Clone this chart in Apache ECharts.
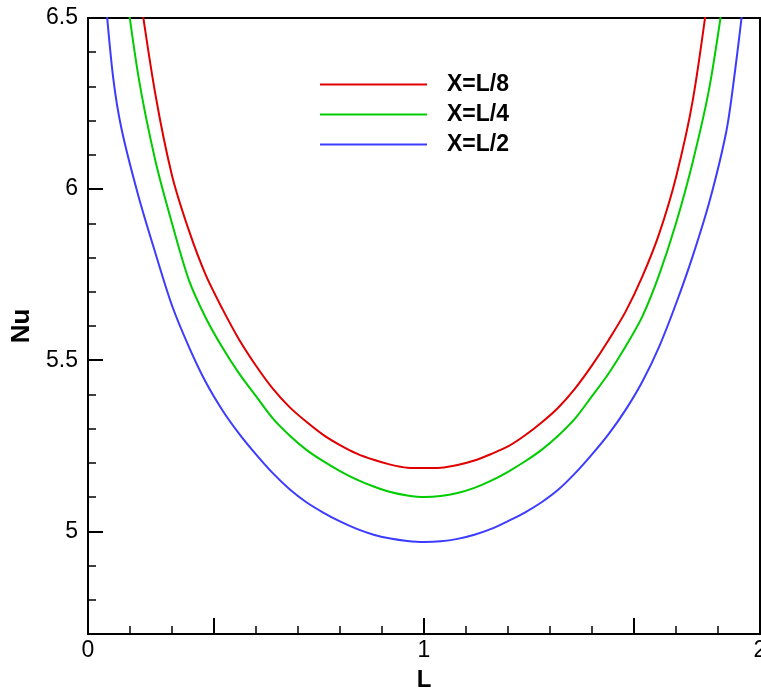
<!DOCTYPE html>
<html>
<head>
<meta charset="utf-8">
<script src="https://cdn.jsdelivr.net/npm/echarts@6/dist/echarts.min.js"></script>
<style>html,body{margin:0;padding:0;background:#fff;}#c{width:761px;height:690px;}</style>
</head>
<body>
<div id="c"></div>
<script>
// ---- data ----
const L = [0.05,0.075,0.10,0.15,0.20,0.25,0.30,0.35,0.40,0.45,0.50,0.55,0.60,0.65,0.70,0.75,0.80,0.85,0.90,0.95,1.00,
           1.05,1.10,1.15,1.20,1.25,1.30,1.35,1.40,1.45,1.50,1.55,1.60,1.65,1.70,1.75,1.80,1.85,1.90,1.925,1.95];
const nuL8 = [null,null,null,6.60,6.28,6.04,5.88,5.75,5.65,5.56,5.484,5.417,5.363,5.320,5.282,5.252,5.227,5.209,5.195,5.186,5.185,
              5.186,5.194,5.207,5.226,5.248,5.280,5.318,5.362,5.418,5.485,5.56,5.642,5.745,5.87,6.035,6.26,6.60,null,null,null];
const nuL4 = [null,null,6.68,6.33,6.085,5.90,5.735,5.625,5.537,5.461,5.395,5.330,5.280,5.238,5.205,5.176,5.151,5.131,5.115,5.105,5.100,
              5.103,5.112,5.127,5.148,5.174,5.204,5.238,5.280,5.330,5.395,5.462,5.54,5.628,5.75,5.90,6.08,6.30,6.62,null,null];
const nuL2 = [6.58,6.325,6.175,5.98,5.815,5.66,5.54,5.437,5.354,5.285,5.225,5.170,5.123,5.085,5.055,5.029,5.007,4.990,4.979,4.972,4.969,
              4.971,4.978,4.990,5.007,5.030,5.055,5.085,5.122,5.170,5.225,5.285,5.355,5.438,5.54,5.665,5.805,5.965,6.17,6.34,6.54];
const seriesNames = ['X=L/8','X=L/4','X=L/2'];
const xLabelValues = [0,1,2];
const xMajorTicks = [0.375,1,1.625];
const yMajorValues = [5,5.5,6,6.5];

const pair = (ys) => L.map((x,i) => [x, ys[i]]);
const FONT = 'Liberation Sans, Arial, sans-serif';
const gridRect = {left:88, top:18, width:672, height:616, outerBoundsMode:'none', containLabel:false};

const chart = echarts.init(document.getElementById('c'), null, {renderer:'canvas'});
chart.setOption({
  animation:false,
  backgroundColor:'#fff',
  grid:[
    Object.assign({show:true, borderColor:'#000', borderWidth:2, backgroundColor:'transparent'}, gridRect),
    Object.assign({show:false}, gridRect)
  ],
  legend:{
    orient:'vertical', left:315, top:68, itemGap:7,
    icon:'rect', itemWidth:107, itemHeight:2,
    textStyle:{fontFamily:FONT, fontSize:23, fontWeight:'bold', color:'#000', lineHeight:22, padding:[0,0,0,15]},
    data:seriesNames
  },
  xAxis:[
    {type:'value', gridIndex:0, min:0, max:2, position:'bottom',
     name:'L', nameLocation:'middle', nameGap:34,
     nameTextStyle:{fontFamily:FONT, fontSize:24, fontWeight:'bold', color:'#000'},
     axisLine:{show:true, lineStyle:{color:'#000', width:2}},
     axisTick:{show:true, inside:true, length:16, customValues:xMajorTicks, lineStyle:{color:'#000', width:2}},
     axisLabel:{show:true, customValues:xLabelValues, margin:5, fontFamily:FONT, fontSize:23, color:'#000'},
     splitLine:{show:false}},
    {type:'value', gridIndex:1, min:0, max:2, interval:0.125, position:'bottom',
     axisLine:{show:false},
     axisTick:{show:true, inside:true, length:8, lineStyle:{color:'#000', width:1.5}},
     axisLabel:{show:false}, splitLine:{show:false}}
  ],
  yAxis:[
    {type:'value', gridIndex:0, min:4.7, max:6.5, position:'left',
     name:'Nu', nameLocation:'middle', nameGap:45,
     nameTextStyle:{fontFamily:FONT, fontSize:26, fontWeight:'bold', color:'#000'},
     axisLine:{show:true, lineStyle:{color:'#000', width:2}},
     axisTick:{show:true, inside:true, length:15, customValues:yMajorValues, lineStyle:{color:'#000', width:2}},
     axisLabel:{show:true, customValues:yMajorValues, margin:10, fontFamily:FONT, fontSize:23, color:'#000'},
     splitLine:{show:false}},
    {type:'value', gridIndex:1, min:4.7, max:6.5, interval:0.1, position:'left',
     axisLine:{show:false},
     axisTick:{show:true, inside:true, length:8, lineStyle:{color:'#000', width:1.5}},
     axisLabel:{show:false}, splitLine:{show:false}}
  ],
  series:[
    {name:seriesNames[0], type:'line', xAxisIndex:0, yAxisIndex:0, data:pair(nuL8), showSymbol:false, clip:true,
     smooth:0.3, color:'#e00000', lineStyle:{color:'#e00000', width:2}},
    {name:seriesNames[1], type:'line', xAxisIndex:0, yAxisIndex:0, data:pair(nuL4), showSymbol:false, clip:true,
     smooth:0.3, color:'#00cc00', lineStyle:{color:'#00cc00', width:2}},
    {name:seriesNames[2], type:'line', xAxisIndex:0, yAxisIndex:0, data:pair(nuL2), showSymbol:false, clip:true,
     smooth:0.3, color:'#3c3cff', lineStyle:{color:'#3c3cff', width:2}}
  ]
});
</script>
</body>
</html>
